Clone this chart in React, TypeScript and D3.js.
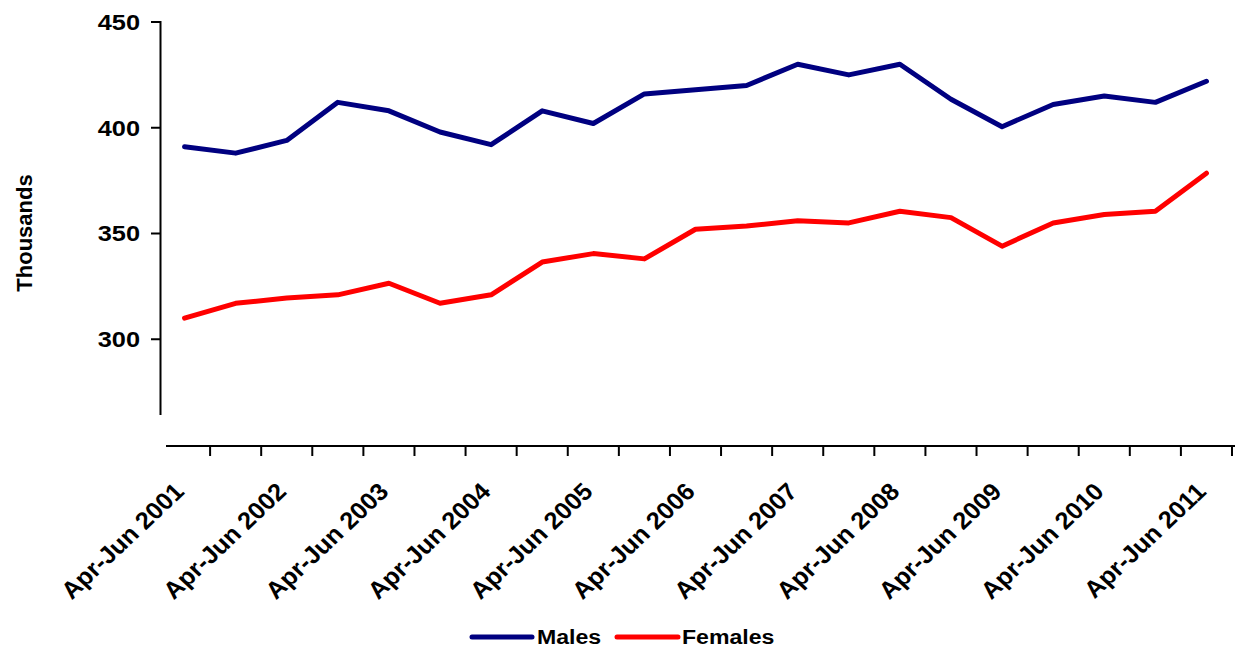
import React from "react";
import * as d3 from "d3";

const categories: string[] = [
  "Apr-Jun 2001", "Oct-Dec 2001", "Apr-Jun 2002", "Oct-Dec 2002", "Apr-Jun 2003", "Oct-Dec 2003",
  "Apr-Jun 2004", "Oct-Dec 2004", "Apr-Jun 2005", "Oct-Dec 2005", "Apr-Jun 2006", "Oct-Dec 2006",
  "Apr-Jun 2007", "Oct-Dec 2007", "Apr-Jun 2008", "Oct-Dec 2008", "Apr-Jun 2009", "Oct-Dec 2009",
  "Apr-Jun 2010", "Oct-Dec 2010", "Apr-Jun 2011",
];
const labelledCategories: string[] = categories.filter((_, i) => i % 2 === 0);

const males: number[] = [391, 388, 394, 412, 408, 398, 392, 408, 402, 416, 418, 420, 430, 425, 430, 413.5, 400.5, 411, 415, 412, 422];
const females: number[] = [310, 317, 319.5, 321, 326.5, 317, 321, 336.5, 340.5, 338, 352, 353.5, 356, 355, 360.5, 357.5, 344, 355, 359, 360.5, 378.5];

const yTicks: number[] = [300, 350, 400, 450];
const seriesNames: string[] = ["Males", "Females"];
const seriesColors: string[] = ["#000080", "#FF0000"];
const yTitle = "Thousands";

const FONT = "'Liberation Sans', Arial, sans-serif";

export default function App() {
  const W = 1235, H = 648;
  const x = d3.scaleBand<string>().domain(categories).range([159, 1232]).paddingInner(0).paddingOuter(0);
  const y = d3.scaleLinear().domain([250, 450]).range([445, 22]);
  const cx = (c: string) => (x(c) as number) + x.bandwidth() / 2;
  const line = d3.line<number>().x((_, i) => cx(categories[i])).y((v) => y(v));
  const series = [males, females];
  const yAxisX = 160.5;
  const xAxisY = 446;
  const boundaries = categories.slice(1).map((c) => x(c) as number).concat([x.range()[1]]);

  const legendItems = [
    { x1: 472, x2: 532, tx: 537 },
    { x1: 617, x2: 678, tx: 682 },
  ];

  return (
    <svg width={W} height={H} style={{ position: "absolute", left: 0, top: 0, background: "#fff" }} fontFamily={FONT} fontWeight="bold">
      <rect x={0} y={0} width={W} height={H} fill="#fff" />
      {/* Y axis */}
      <line x1={yAxisX} x2={yAxisX} y1={y(450) - 1} y2={415} stroke="#000" strokeWidth={2} />
      {yTicks.map((t) => (
        <g key={t}>
          <line x1={151} x2={yAxisX} y1={y(t)} y2={y(t)} stroke="#000" strokeWidth={2} />
          <text transform={`translate(140,${y(t) + 7.8}) scale(1.18,1)`} textAnchor="end" fontSize={21.5} fill="#000">
            {t}
          </text>
        </g>
      ))}
      <text transform={`translate(32,233) rotate(-90)`} textAnchor="middle" fontSize={22} fill="#000">
        {yTitle}
      </text>
      {/* X axis */}
      <line x1={166} x2={W} y1={xAxisY} y2={xAxisY} stroke="#000" strokeWidth={2} />
      {boundaries.map((b, i) => (
        <line key={i} x1={b} x2={b} y1={xAxisY} y2={456} stroke="#000" strokeWidth={2} />
      ))}
      {labelledCategories.map((c) => (
        <text key={c} transform={`translate(${cx(c) + 1},493) scale(1.06,1) rotate(-45)`} textAnchor="end" fontSize={24} fill="#000">
          {c}
        </text>
      ))}
      {/* Lines */}
      {series.map((s, i) => (
        <path key={i} d={line(s) || ""} fill="none" stroke={seriesColors[i]} strokeWidth={5} strokeLinejoin="round" strokeLinecap="round" />
      ))}
      {/* Legend */}
      {seriesNames.map((n, i) => (
        <g key={n}>
          <line x1={legendItems[i].x1} x2={legendItems[i].x2} y1={637} y2={637} stroke={seriesColors[i]} strokeWidth={5} strokeLinecap="round" />
          <text transform={`translate(${legendItems[i].tx},643.5) scale(1.1,1)`} fontSize={21} fill="#000">
            {n}
          </text>
        </g>
      ))}
    </svg>
  );
}
